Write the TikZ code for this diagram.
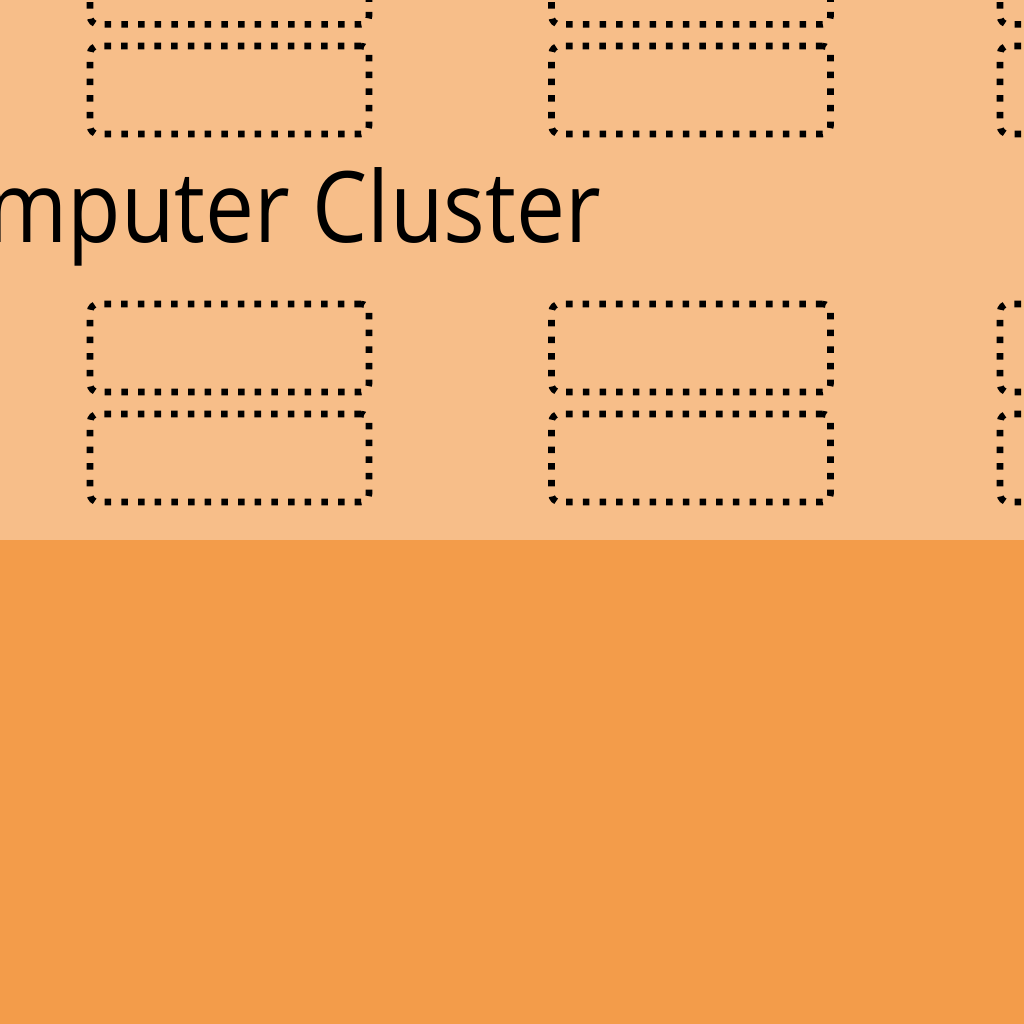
\documentclass[tikz,border=0pt]{standalone}
\usepackage{fontspec}
\setmainfont{Open Sans}
\usetikzlibrary{positioning}

\definecolor{clusterbg}{RGB}{247,190,137}
\definecolor{floorbg}{RGB}{243,156,74}

\begin{document}
\begin{tikzpicture}[x=0.75pt,y=-0.75pt]
  \tikzset{
  % one dotted server slot
  slotbox/.style={draw=black, rounded corners=6pt, line width=4.9pt,
    line cap=butt, dash pattern=on 4.9pt off 7.6pt,
    minimum width=209.25pt, minimum height=66pt, inner sep=0pt, outer sep=0pt},
  clusterlabel/.style={inner sep=0pt, anchor=base east, xscale=0.885,
    font=\fontsize{74}{80}\selectfont},
}

\useasboundingbox (0,0) rectangle (1024,1024);
\clip (0,0) rectangle (1024,1024);

% background bands
\fill[clusterbg] (0,0) rectangle (1024,540);
\fill[floorbg] (0,540) rectangle (1024,1024);

% racks of slots, two per rack
\foreach \cx/\cn in {229.5/a, 691/b, 1139.5/c}{
  \node[slotbox] (\cn-1) at (\cx,-19.7) {};
  \node[slotbox] (\cn-2) at (\cx,90) {};
  \node[slotbox] (\cn-3) at (\cx,348) {};
  \node[slotbox] (\cn-4) at (\cx,458) {};
}

\node[clusterlabel] (title) at (601,242) {Computer Cluster};
\end{tikzpicture}
\end{document}
